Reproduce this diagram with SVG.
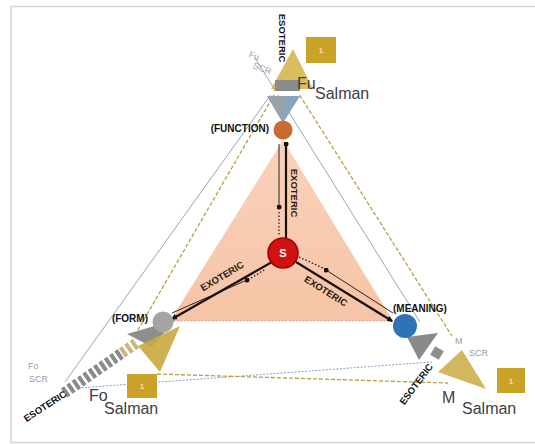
<svg xmlns="http://www.w3.org/2000/svg" width="535" height="444" viewBox="0 0 535 444">
<defs>
<style>
.lbl{font-family:"Liberation Sans",Arial,sans-serif;font-weight:bold;fill:#111}
.big{font-family:"Liberation Sans",Arial,sans-serif;fill:#404040;font-size:16px}
.scr{font-family:"Liberation Sans",Arial,sans-serif;fill:#9a9aa6;font-size:9px}
.eso{font-family:"Liberation Sans",Arial,sans-serif;font-weight:bold;fill:#111;font-size:9.5px}
.exo{font-family:"Liberation Sans",Arial,sans-serif;font-weight:bold;fill:#2a1a10;font-size:9.5px}
.box{fill:#c9a227}
.boxt{font-family:"Liberation Sans",Arial,sans-serif;fill:#f2e3a6;font-size:8px;font-weight:bold}
.gline{fill:none;stroke:#8c9cb0;stroke-width:0.9}
.gold{fill:none;stroke:#b8a040;stroke-width:1.3;stroke-dasharray:4 2}
.thick{fill:none;stroke:#1a1010;stroke-width:2.2}
.thin{fill:none;stroke:#1a1010;stroke-width:0.9}
.dots{fill:none;stroke:#1a1010;stroke-width:1.2;stroke-dasharray:1.5 2}
</style>
<linearGradient id="peach" x1="0" y1="0" x2="0" y2="1">
<stop offset="0" stop-color="#f9d2bb"/>
<stop offset="1" stop-color="#f6c4a6"/>
</linearGradient>
<marker id="dot" viewBox="0 0 6 6" refX="3" refY="3" markerWidth="5" markerHeight="5" markerUnits="userSpaceOnUse"><circle cx="3" cy="3" r="3" fill="#1a1010"/></marker>
<marker id="tri" viewBox="0 0 10 10" refX="8" refY="5" markerWidth="6" markerHeight="6" markerUnits="userSpaceOnUse" orient="auto"><path d="M0,0 L10,5 L0,10 z" fill="#1a1010"/></marker>
</defs>
<rect x="11" y="6.5" width="531" height="436" fill="#fff" stroke="#d4d4d4" stroke-width="1.5"/>

<g id="core-triangle">
<polygon points="283,140 170,321 393,321" fill="url(#peach)"/>
<line x1="170" y1="321" x2="393" y2="321" stroke="#b0a8a0" stroke-width="1" stroke-dasharray="1.5 2"/>
</g>

<g id="connectors">
<line class="gline" x1="290" y1="68" x2="65" y2="382"/>
<line class="gline" x1="255" y1="58" x2="420" y2="322"/>
<line x1="78" y1="388" x2="432" y2="362" stroke="#8c9cc8" stroke-width="1" stroke-dasharray="2 1.5"/>
<line class="gold" x1="278" y1="88" x2="138" y2="330"/>
<line class="gold" x1="290" y1="80" x2="452" y2="336"/>
<line class="gold" x1="157" y1="374" x2="448" y2="383"/>
<line class="thick" x1="286" y1="238" x2="286" y2="144" marker-end="url(#dot)"/>
<line class="thick" x1="272" y1="262" x2="172" y2="319" marker-end="url(#tri)"/>
<line class="thick" x1="296" y1="262" x2="392" y2="321" marker-end="url(#tri)"/>
<line class="thin" x1="279" y1="144" x2="279" y2="207" marker-end="url(#dot)"/>
<line class="dots" x1="279" y1="212" x2="279" y2="236"/>
<line class="thin" x1="172" y1="313" x2="247" y2="280" marker-end="url(#dot)"/>
<line class="dots" x1="251" y1="278" x2="266" y2="269"/>
<line class="dots" x1="299" y1="257" x2="323" y2="268"/>
<line class="thin" x1="326" y1="270" x2="393" y2="313" marker-start="url(#dot)"/>
<text class="exo" transform="translate(294,193) rotate(90)" text-anchor="middle" dominant-baseline="central">EXOTERIC</text>
<text class="exo" transform="translate(222,276) rotate(-31)" text-anchor="middle" dominant-baseline="central">EXOTERIC</text>
<text class="exo" transform="translate(326,291) rotate(32)" text-anchor="middle" dominant-baseline="central">EXOTERIC</text>
</g>

<g id="node-s">
<circle cx="283" cy="253" r="15" fill="#d01212" stroke="#a00000" stroke-width="1.5"/>
<text x="283" y="257" text-anchor="middle" font-family="Liberation Sans,Arial,sans-serif" font-weight="bold" font-size="11" fill="#fff">S</text>
</g>

<g id="node-function">
<polygon points="293,49 271,89 313,89" fill="#d6b64e" opacity="0.9"/>
<rect x="275" y="80" width="25" height="11" fill="#8c8c8c"/>
<rect x="270" y="91" width="34" height="4" fill="#fff"/>
<polygon points="267,96 300,96 283,123" fill="#8aa4bc"/>
<polygon points="267,96 283,96 283,123" fill="#a3a0a0" opacity="0.6"/>
<circle cx="283" cy="130" r="9.5" fill="#c96a30"/>
<text class="lbl" x="269" y="132" text-anchor="end" font-size="10">(FUNCTION)</text>
<text class="eso" transform="translate(282,38) rotate(90)" text-anchor="middle" dominant-baseline="central">ESOTERIC</text>
<rect class="box" x="306" y="37" width="30" height="26"/>
<text class="boxt" x="321" y="53" text-anchor="middle">1</text>
<text class="scr" transform="rotate(20 252 55)" x="249" y="58">Fu</text>
<text class="scr" transform="rotate(20 258 67)" x="253" y="70">SCR</text>
<text class="big" x="297" y="89">Fu</text>
<text class="big" x="315" y="99">Salman</text>
</g>

<g id="node-form">
<line x1="64" y1="393" x2="122" y2="353" stroke="#8a8a8a" stroke-width="11" stroke-dasharray="4 2.5"/>
<line x1="122" y1="353" x2="138" y2="342" stroke="#c8b87a" stroke-width="11" stroke-dasharray="4 2.5"/>
<polygon points="127,334 175,320 152,347" fill="#8e8e8e"/>
<polygon points="138,346 180,326 160,372" fill="#c9a83e" opacity="0.9"/>
<circle cx="163" cy="322" r="10.5" fill="#a4a4a4"/>
<text class="lbl" x="148" y="322" text-anchor="end" font-size="10">(FORM)</text>
<text class="eso" transform="translate(45,406) rotate(-33)" text-anchor="middle" dominant-baseline="central">ESOTERIC</text>
<rect class="box" x="127" y="374" width="30" height="24"/>
<text class="boxt" x="142" y="389" text-anchor="middle">1</text>
<text class="scr" x="28" y="369">Fo</text>
<text class="scr" x="29" y="382">SCR</text>
<text class="big" x="89" y="401">Fo</text>
<text class="big" x="104" y="414">Salman</text>
</g>

<g id="node-meaning">
<polygon points="407,337 438,333 419,360" fill="#8a8a8a"/>
<rect x="432" y="348" width="10" height="10" fill="#8e8e8e" transform="rotate(30 437 353)"/>
<polygon points="438,372 462,350 486,389" fill="#ccb04e" opacity="0.9"/>
<circle cx="405" cy="326" r="12" fill="#2e72b8"/>
<text class="lbl" x="393" y="312" font-size="10">(MEANING)</text>
<text class="eso" transform="translate(416,384) rotate(-53)" text-anchor="middle" dominant-baseline="central">ESOTERIC</text>
<rect class="box" x="497" y="368" width="28" height="25"/>
<text class="boxt" x="511" y="384" text-anchor="middle">1</text>
<text class="scr" x="455" y="344">M</text>
<text class="scr" x="469" y="356">SCR</text>
<text class="big" x="442" y="403">M</text>
<text class="big" x="462" y="414">Salman</text>
</g>
</svg>
